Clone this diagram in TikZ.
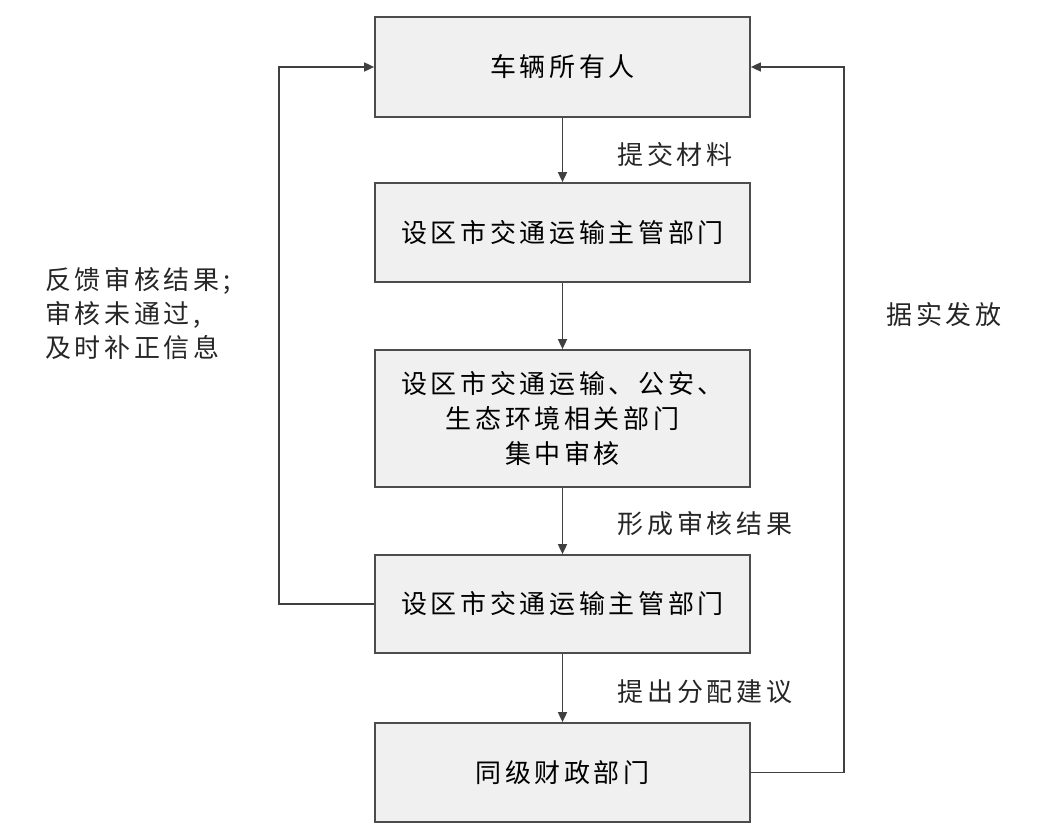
\documentclass[tikz,border=0pt]{standalone}
\usepackage{fontspec}
\setmainfont{Noto Sans CJK SC}[LetterSpace=14]
\usetikzlibrary{arrows.meta}
\tikzset{
  box/.style={draw=black!70, fill=black!6, line width=1.7pt, minimum width=375pt, inner sep=0pt, align=center, font=\fontsize{26}{35}\selectfont},
  arr/.style={draw=black!75, line width=1.6pt, -{Triangle[length=10pt,width=9pt]}},
  lbl/.style={font=\fontsize{26}{34}\selectfont, inner sep=0pt, text=black!85},
}
\begin{document}
\begin{tikzpicture}[x=1pt,y=-1pt]
\useasboundingbox (0,0) rectangle (1038,835);
\node[box, minimum height=100pt] (b1) at (562.5,67) {车辆所有人};
\node[box, minimum height=99pt] (b2) at (562.5,232.5) {设区市交通运输主管部门};
\node[box, minimum height=137pt] (b3) at (562.5,418.5) {设区市交通运输、公安、\\生态环境相关部门\\集中审核};
\node[box, minimum height=98pt] (b4) at (562.5,604) {设区市交通运输主管部门};
\node[box, minimum height=99pt] (b5) at (562.5,772.5) {同级财政部门};
\draw[arr] (b1) -- (b2);
\draw[arr] (b2) -- (b3);
\draw[arr] (b3) -- (b4);
\draw[arr] (b4) -- (b5);
\draw[arr] (b4.west) -- ++(-95,0) |- (b1.west);
\draw[arr] (b5.east) -- ++(93,0) |- (b1.east);
\node[lbl] (l1) at (675,155) {提交材料};
\node[lbl] (l3) at (705,524) {形成审核结果};
\node[lbl] (l4) at (705,692) {提出分配建议};
\node[lbl, anchor=west, align=left] (lf) at (45,314) {反馈审核结果;\\审核未通过,\\及时补正信息};
\node[lbl] (rf) at (944,315) {据实发放};
\end{tikzpicture}
\end{document}
